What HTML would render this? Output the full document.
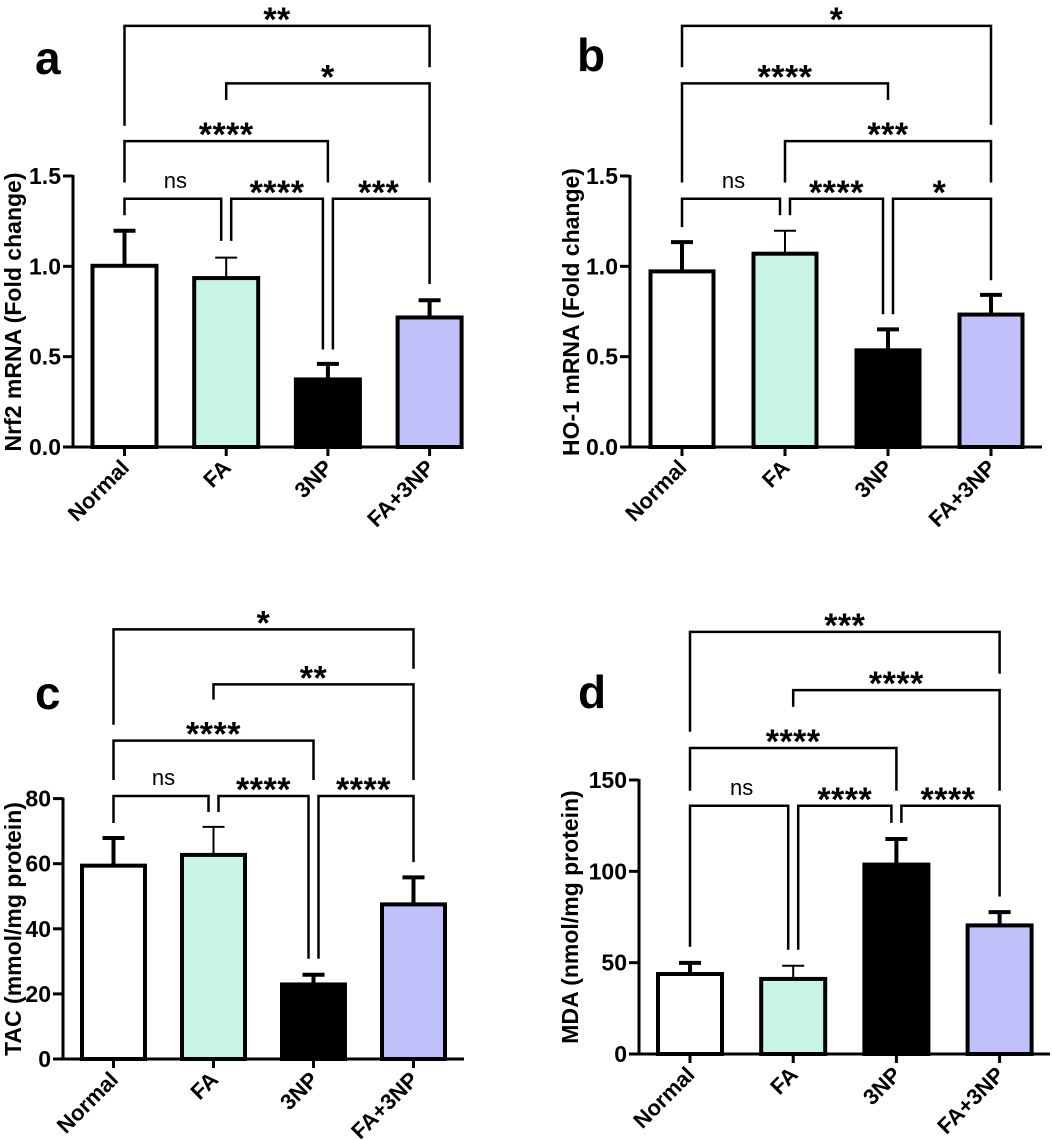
<!DOCTYPE html>
<html>
<head>
<meta charset="utf-8">
<style>
html,body{margin:0;padding:0;background:#fff;}
svg{display:block;}
text{font-family:"Liberation Sans",Arial,sans-serif;fill:#000;}
</style>
</head>
<body>
<svg id="fig" width="1052" height="1140" viewBox="0 0 1052 1140" xmlns="http://www.w3.org/2000/svg"></svg>
<script>
// ===== data =====
const categories = ["Normal", "FA", "3NP", "FA+3NP"];
const barColors = ["#ffffff", "#c8f5e3", "#000000", "#c0c0fb"];

// panel a: Nrf2
const nrf2Values = [1.003, 0.935, 0.374, 0.717];
const nrf2ErrTop = [1.197, 1.048, 0.46, 0.812];
const nrf2Ticks = [0, 0.5, 1.0, 1.5];
const nrf2TickLabels = ["0.0", "0.5", "1.0", "1.5"];
const nrf2BrFrom = [0, 1, 2, 0, 1, 0];
const nrf2BrTo = [1, 2, 3, 2, 3, 3];
const nrf2BrLabel = ["ns", "****", "***", "****", "*", "**"];
const nrf2BrLine = [1.374, 1.374, 1.374, 1.693, 2.013, 2.331];
const nrf2BrLeft = [1.283, 1.141, 0.54, 1.464, 1.921, 1.778];
const nrf2BrRight = [1.141, 0.54, 0.902, 1.464, 1.464, 2.102];

// panel b: HO-1
const ho1Values = [0.972, 1.07, 0.535, 0.733];
const ho1ErrTop = [1.134, 1.197, 0.651, 0.842];
const ho1Ticks = [0, 0.5, 1.0, 1.5];
const ho1TickLabels = ["0.0", "0.5", "1.0", "1.5"];
const ho1BrFrom = [0, 1, 2, 1, 0, 0];
const ho1BrTo = [1, 2, 3, 3, 2, 3];
const ho1BrLabel = ["ns", "****", "*", "***", "****", "*"];
const ho1BrLine = [1.374, 1.374, 1.374, 1.693, 2.013, 2.331];
const ho1BrLeft = [1.217, 1.283, 0.735, 1.464, 1.464, 2.102];
const ho1BrRight = [1.283, 0.735, 0.923, 1.464, 1.921, 1.783];

// panel c: TAC
const tacValues = [59.4, 62.7, 22.9, 47.5];
const tacErrTop = [67.9, 71.3, 25.9, 55.8];
const tacTicks = [0, 20, 40, 60, 80];
const tacTickLabels = ["0", "20", "40", "60", "80"];
const tacBrFrom = [0, 1, 2, 0, 1, 0];
const tacBrTo = [1, 2, 3, 2, 3, 3];
const tacBrLabel = ["ns", "****", "****", "****", "**", "*"];
const tacBrLine = [80.8, 80.8, 80.8, 97.8, 115.1, 132];
const tacBrLeft = [72.5, 75.9, 30.8, 85.7, 110.4, 102.7];
const tacBrRight = [75.9, 30.8, 60.5, 85.7, 85.7, 119.9];

// panel d: MDA
const mdaValues = [43.8, 41.1, 103.7, 70.4];
const mdaErrTop = [49.9, 48.3, 117.7, 77.7];
const mdaTicks = [0, 50, 100, 150];
const mdaTickLabels = ["0", "50", "100", "150"];
const mdaBrFrom = [0, 1, 2, 0, 1, 0];
const mdaBrTo = [1, 2, 3, 2, 3, 3];
const mdaBrLabel = ["ns", "****", "****", "****", "****", "***"];
const mdaBrLine = [135.9, 135.9, 135.9, 167.5, 199.2, 231.1];
const mdaBrLeft = [58.7, 57.1, 126.5, 144.1, 190, 176.4];
const mdaBrRight = [57.1, 126.5, 86.2, 144.1, 144.1, 208.2];

// ===== drawing =====
const NS = "http://www.w3.org/2000/svg";
const svg = document.getElementById("fig");
function mk(tag, parent, attrs) {
  const e = document.createElementNS(NS, tag);
  for (const k in attrs) e.setAttribute(k, attrs[k]);
  parent.appendChild(e);
  return e;
}

function drawPanel(p) {
  const g = mk("g", svg, {});
  
  
  const yScale = v => p.y0 - (v / p.yMax) * (p.y0 - p.yMaxPx);
  const xScale = i => p.cx0 + i * p.sp;

  const L = mk("text", g, {x: p.letterX, y: p.letterY, "font-size": 46, "font-weight": "bold"});
  L.textContent = p.letter;
  
  

  const T = mk("text", g, {x: 0, y: 0, "font-size": 23, "font-weight": "bold", "text-anchor": "middle",
    transform: `translate(${p.titleX},${p.titleY}) rotate(-90)`});
  T.textContent = p.title;
  
  

  p.values.forEach((v, i) => {
    const cx = xScale(i);
    const top = yScale(v);
    const r = mk("rect", g, {x: cx - p.barW / 2, y: top, width: p.barW, height: p.y0 - top,
      fill: barColors[i], stroke: "#000", "stroke-width": 4});
    
    
    const et = yScale(p.err[i]);
    const lw = i === 1 ? 2 : 4;
    const eb = mk("path", g, {d: `M${cx},${top} V${et} M${cx - 11},${et} H${cx + 11}`,
      stroke: "#000", "stroke-width": lw, fill: "none"});
    
    
  });

  const ya = mk("line", g, {x1: p.ax, y1: yScale(p.yMax) - 1, x2: p.ax, y2: p.y0, stroke: "#000", "stroke-width": 3});
  
  
  const xa = mk("line", g, {x1: p.ax - 10, y1: p.y0, x2: p.axEnd, y2: p.y0, stroke: "#000", "stroke-width": 3});
  
  

  p.ticks.forEach((t, i) => {
    const y = yScale(t);
    const tk = mk("line", g, {x1: p.ax - 10, y1: y, x2: p.ax, y2: y, stroke: "#000", "stroke-width": 3});
    
    
    const tl = mk("text", g, {x: p.ax - 12, y: y + 8, "font-size": 23, "font-weight": "bold", "text-anchor": "end"});
    tl.textContent = p.tickLabels[i];
    
    
  });

  categories.forEach((c, i) => {
    const cx = xScale(i);
    const tk = mk("line", g, {x1: cx, y1: p.y0, x2: cx, y2: p.y0 + 9, stroke: "#000", "stroke-width": 3});
    
    
    const tl = mk("text", g, {x: 0, y: 0, "font-size": 22, "font-weight": "bold", "text-anchor": "end",
      transform: `translate(${cx + 6},${p.y0 + 22}) rotate(-45)`});
    tl.textContent = c;
    
    
  });

  p.brFrom.forEach((f, k) => {
    const t = p.brTo[k];
    const ly = p.brLine[k];
    let x1 = xScale(f), x2 = xScale(t);
    const sameLine = j => Math.abs(p.brLine[j] - ly) < 1e-6;
    if (p.brFrom.some((ff, j) => j !== k && sameLine(j) && p.brTo[j] === f)) x1 += 5;
    if (p.brFrom.some((ff, j) => j !== k && sameLine(j) && ff === t)) x2 -= 5;
    const yl = yScale(ly);
    const br = mk("path", g, {d: `M${x1},${yScale(p.brLeft[k])} V${yl} H${x2} V${yScale(p.brRight[k])}`,
      stroke: "#000", "stroke-width": 2.5, fill: "none"});
    
    
    const lab = p.brLabel[k];
    const isNs = lab === "ns";
    const tx = mk("text", g, {x: (xScale(f) + xScale(t)) / 2, y: isNs ? yl - 11 : yl + 5,
      "font-size": isNs ? 22 : 34, "font-weight": isNs ? "normal" : "bold", "text-anchor": "middle",
      "letter-spacing": isNs ? 0 : 0.5});
    tx.textContent = lab;
    
    
  });
}

drawPanel({id: "a", letter: "a", letterX: 35, letterY: 74, title: "Nrf2 mRNA (Fold change)", titleX: 21, titleY: 312,
  ax: 73, axEnd: 461, cx0: 124.5, sp: 101.7, y0: 447, yMax: 1.5, yMaxPx: 176, barW: 64,
  values: nrf2Values, err: nrf2ErrTop, ticks: nrf2Ticks, tickLabels: nrf2TickLabels,
  brFrom: nrf2BrFrom, brTo: nrf2BrTo, brLabel: nrf2BrLabel, brLine: nrf2BrLine, brLeft: nrf2BrLeft, brRight: nrf2BrRight});
drawPanel({id: "b", letter: "b", letterX: 577, letterY: 71, title: "HO-1 mRNA (Fold change)", titleX: 579, titleY: 312,
  ax: 630, axEnd: 1042, cx0: 682, sp: 103, y0: 447, yMax: 1.5, yMaxPx: 176, barW: 63,
  values: ho1Values, err: ho1ErrTop, ticks: ho1Ticks, tickLabels: ho1TickLabels,
  brFrom: ho1BrFrom, brTo: ho1BrTo, brLabel: ho1BrLabel, brLine: ho1BrLine, brLeft: ho1BrLeft, brRight: ho1BrRight});
drawPanel({id: "c", letter: "c", letterX: 35, letterY: 709, title: "TAC (mmol/mg protein)", titleX: 21, titleY: 929,
  ax: 63, axEnd: 464, cx0: 113.5, sp: 100, y0: 1059, yMax: 80, yMaxPx: 798.6, barW: 63,
  values: tacValues, err: tacErrTop, ticks: tacTicks, tickLabels: tacTickLabels,
  brFrom: tacBrFrom, brTo: tacBrTo, brLabel: tacBrLabel, brLine: tacBrLine, brLeft: tacBrLeft, brRight: tacBrRight});
drawPanel({id: "d", letter: "d", letterX: 578, letterY: 708, title: "MDA (nmol/mg protein)", titleX: 578, titleY: 917,
  ax: 639, axEnd: 1050, cx0: 690, sp: 103.2, y0: 1054, yMax: 150, yMaxPx: 780, barW: 64,
  values: mdaValues, err: mdaErrTop, ticks: mdaTicks, tickLabels: mdaTickLabels,
  brFrom: mdaBrFrom, brTo: mdaBrTo, brLabel: mdaBrLabel, brLine: mdaBrLine, brLeft: mdaBrLeft, brRight: mdaBrRight});
</script>
</body>
</html>
